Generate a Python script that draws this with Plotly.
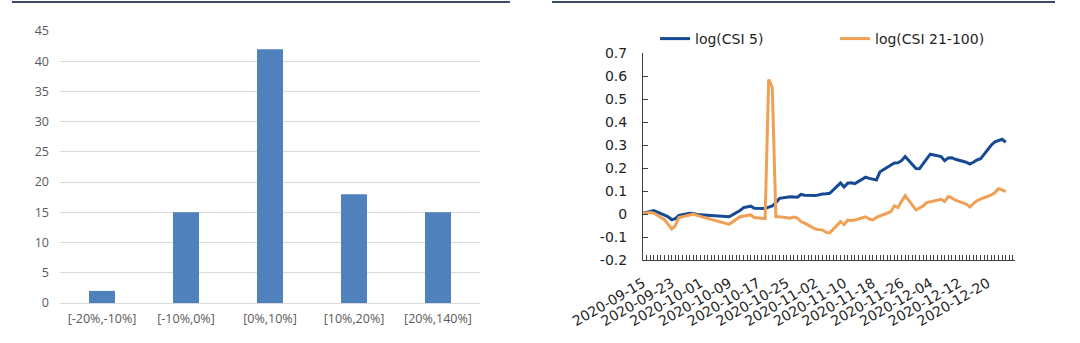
import plotly.graph_objects as go

# ---- left chart data ----
bins = ["[-20%,-10%]", "[-10%,0%]", "[0%,10%]", "[10%,20%]", "[20%,140%]"]
counts = [2, 15, 42, 18, 15]
left_yticks = [0, 5, 10, 15, 20, 25, 30, 35, 40, 45]

# ---- right chart data ----
dates = [
    "2020-09-15", "2020-09-16", "2020-09-17", "2020-09-18",
    "2020-09-21", "2020-09-22", "2020-09-23", "2020-09-24", "2020-09-25",
    "2020-09-28", "2020-09-29", "2020-09-30",
    "2020-10-09",
    "2020-10-12", "2020-10-13", "2020-10-14", "2020-10-15", "2020-10-16",
    "2020-10-19", "2020-10-20", "2020-10-21", "2020-10-22", "2020-10-23",
    "2020-10-26", "2020-10-27", "2020-10-28", "2020-10-29", "2020-10-30",
    "2020-11-02", "2020-11-03", "2020-11-04", "2020-11-05", "2020-11-06",
    "2020-11-09", "2020-11-10", "2020-11-11", "2020-11-12", "2020-11-13",
    "2020-11-16", "2020-11-17", "2020-11-18", "2020-11-19", "2020-11-20",
    "2020-11-23", "2020-11-24", "2020-11-25", "2020-11-26", "2020-11-27",
    "2020-11-30", "2020-12-01", "2020-12-02", "2020-12-03", "2020-12-04",
    "2020-12-07", "2020-12-08", "2020-12-09", "2020-12-10", "2020-12-11",
    "2020-12-14", "2020-12-15", "2020-12-16", "2020-12-17", "2020-12-18",
    "2020-12-21", "2020-12-22", "2020-12-23", "2020-12-24", "2020-12-25",
]
csi5 = [
    0.003, 0.008, 0.012, 0.015,
    -0.005, -0.012, -0.025, -0.020, -0.006,
    0.003, 0.002, -0.002,
    -0.012,
    0.015, 0.028, 0.030, 0.034, 0.025,
    0.024, 0.030, 0.035, 0.048, 0.068,
    0.075, 0.074, 0.073, 0.085, 0.082,
    0.080, 0.084, 0.087, 0.088, 0.090,
    0.135, 0.117, 0.134, 0.136, 0.132,
    0.160, 0.155, 0.150, 0.148, 0.184,
    0.215, 0.222, 0.223, 0.232, 0.250,
    0.198, 0.197, 0.220, 0.240, 0.260,
    0.250, 0.232, 0.244, 0.245, 0.238,
    0.225, 0.217, 0.225, 0.235, 0.240,
    0.300, 0.314, 0.318, 0.325, 0.312,
]
csi21_100 = [
    0.002, 0.004, 0.006, 0.004,
    -0.025, -0.045, -0.065, -0.050, -0.015,
    -0.004, 0.000, -0.006,
    -0.045,
    -0.012, -0.010, -0.006, -0.004, -0.015,
    -0.020, 0.585, 0.550, -0.012, -0.012,
    -0.018, -0.013, -0.018, -0.033, -0.040,
    -0.065, -0.068, -0.070, -0.080, -0.082,
    -0.033, -0.046, -0.026, -0.028, -0.026,
    -0.012, -0.022, -0.026, -0.015, -0.008,
    0.010, 0.035, 0.028, 0.055, 0.080,
    0.018, 0.025, 0.035, 0.050, 0.054,
    0.064, 0.054, 0.076, 0.070, 0.060,
    0.043, 0.030, 0.045, 0.058, 0.065,
    0.083, 0.093, 0.110, 0.105, 0.097,
]
right_yticks = [-0.2, -0.1, 0, 0.1, 0.2, 0.3, 0.4, 0.5, 0.6, 0.7]
right_yticktext = ["-0.2", "-0.1", "0", "0.1", "0.2", "0.3", "0.4", "0.5", "0.6", "0.7"]

W, H = 1080, 343


def px_x(p):
    return p / W


def px_y(p):
    return 1 - p / H


fig = go.Figure()

fig.add_trace(go.Bar(
    x=bins, y=counts, xaxis="x", yaxis="y",
    marker=dict(color="#4F81BD", line=dict(width=0)),
    width=0.31, showlegend=False,
))

fig.add_trace(go.Scatter(
    x=dates, y=csi5, xaxis="x2", yaxis="y2", mode="lines",
    name="log(CSI 5)", line=dict(color="#174A94", width=3),
))
fig.add_trace(go.Scatter(
    x=dates, y=csi21_100, xaxis="x2", yaxis="y2", mode="lines",
    name="log(CSI 21-100)", line=dict(color="#F0A055", width=3),
))

left_font = dict(family="Open Sans", size=12.5, color="#595959")
right_font = dict(family="DejaVu Sans", size=14, color="#1F1F1F")

fig.update_layout(
    template="none",
    width=W, height=H, autosize=False,
    margin=dict(l=0, r=0, t=0, b=0, pad=0, autoexpand=False),
    paper_bgcolor="white", plot_bgcolor="white",
    xaxis=dict(
        domain=[px_x(60), px_x(480)], anchor="y", automargin=False,
        showline=False, ticks="", tickfont=left_font, showgrid=False,
        zeroline=False, ticklabelstandoff=6,
    ),
    yaxis=dict(
        domain=[px_y(303), px_y(31)], anchor="x", automargin=False,
        range=[0, 45], tickvals=left_yticks, showgrid=True,
        gridcolor="#D9D9D9", gridwidth=1, zeroline=True,
        zerolinecolor="#D9D9D9", zerolinewidth=1,
        showline=False, ticks="", tickfont=left_font, ticklabelstandoff=10,
    ),
    xaxis2=dict(
        domain=[px_x(643), px_x(1015)], anchor="y2", automargin=False,
        type="date", range=["2020-09-15", "2020-12-27 14:00"],
        tick0="2020-09-15", dtick=8 * 86400000, tickformat="%Y-%m-%d",
        tickangle=-30, tickfont=dict(family="DejaVu Sans", size=14, color="#1F1F1F"),
        showline=True, linecolor="#404040", linewidth=1,
        ticks="inside", ticklen=5, tickcolor="#404040",
        minor=dict(dtick=86400000, ticks="inside", ticklen=5, tickcolor="#404040", showgrid=False),
        showgrid=False, zeroline=False, ticklabelstandoff=9,
    ),
    yaxis2=dict(
        domain=[px_y(260), px_y(53)], anchor="x2", automargin=False,
        range=[-0.2, 0.7], tickvals=right_yticks, ticktext=right_yticktext,
        tickfont=right_font, showline=True, linecolor="#404040", linewidth=1,
        ticks="inside", ticklen=5, tickcolor="#404040",
        showgrid=False, zeroline=False, ticklabelstandoff=12,
    ),
    legend=dict(
        orientation="h", x=px_x(655), y=px_y(39), xanchor="left", yanchor="middle",
        font=right_font, entrywidth=135, entrywidthmode="pixels",
        bgcolor="rgba(0,0,0,0)", borderwidth=0,
    ),
    shapes=[
        dict(type="line", xref="paper", yref="paper",
             x0=px_x(12), x1=px_x(510), y0=px_y(2), y1=px_y(2),
             line=dict(color="#3B4A68", width=2)),
        dict(type="line", xref="paper", yref="paper",
             x0=px_x(552), x1=px_x(1055), y0=px_y(2), y1=px_y(2),
             line=dict(color="#3B4A68", width=2)),
    ],
)

fig.write_html("out.html")
